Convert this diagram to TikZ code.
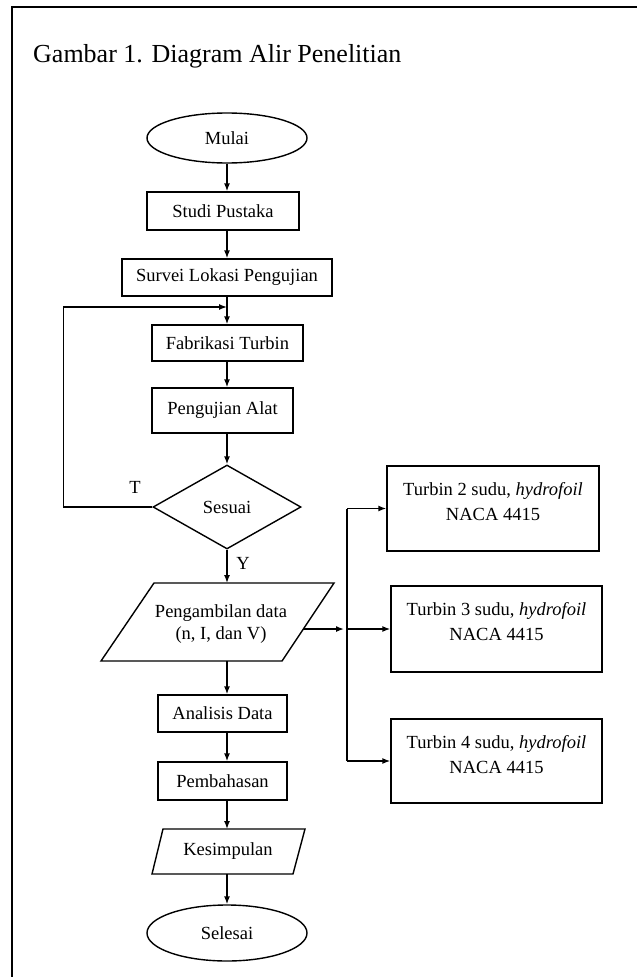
\documentclass[tikz,border=0pt]{standalone}
\usepackage{fontspec}
\setmainfont{Liberation Serif}
\usetikzlibrary{shapes.geometric,arrows.meta,calc}
\begin{document}
\begin{tikzpicture}[x=1pt,y=-1pt,
  every node/.style={font=\fontsize{18.5}{22}\selectfont, inner sep=0pt},
  proc/.style={draw, line width=1.4pt, rectangle},
  term/.style={draw, line width=1.4pt, ellipse},
  dec/.style={draw, line width=1.4pt, diamond},
  ln/.style={line width=1.4pt},
  arr/.style={line width=1.4pt, -{Latex[length=8pt,width=6pt]}},
  turb/.style={proc, minimum width=211pt},
  turbtext/.style={anchor=north, align=center, font=\fontsize{18.5}{25}\selectfont}]
\useasboundingbox (0,0) rectangle (637,977);
\fill[white] (0,0) rectangle (637,977);
\draw[line width=2.4pt] (12,977) -- (12,7) -- (637,7);

\node[anchor=base west, font=\fontsize{26}{30}\selectfont] (title) at (33,62) {Gambar 1. Diagram Alir Penelitian};

\coordinate (col) at (227,0);

\node[term, minimum width=160pt, minimum height=50pt] (mulai) at (227,138) {Mulai};
\node[proc, minimum width=152pt, minimum height=38pt] (studi) at (223,211) {Studi Pustaka};
\node[proc, minimum width=210pt, minimum height=37pt] (survei) at (227,277.5) {Survei Lokasi Pengujian};
\node[proc, minimum width=151pt, minimum height=36pt] (fabr) at (227.5,343) {Fabrikasi Turbin};
\node[proc, minimum width=141pt, minimum height=45pt] (uji) at (222.5,410.5) {Pengujian Alat};
\node[dec, minimum width=148pt, minimum height=84pt, aspect=1.76] (sesuai) at (227,507) {Sesuai};

% Pengambilan data parallelogram
\coordinate (tl) at (154,583);
\coordinate (tr) at (334,583);
\coordinate (br) at (282,661);
\coordinate (bl) at (101,661);
\draw[ln] (tl) -- (tr) -- (br) -- (bl) -- cycle;
\node[align=center] (ambil) at (221,624) {Pengambilan data\\(n, I, dan V)};

\node[proc, minimum width=129pt, minimum height=37pt] (anal) at (222.5,713.5) {Analisis Data};
\node[proc, minimum width=129pt, minimum height=38pt] (pemb) at (222.5,781) {Pembahasan};

% Kesimpulan parallelogram
\coordinate (ktl) at (163,829);
\coordinate (ktr) at (305,829);
\coordinate (kbr) at (293,874);
\coordinate (kbl) at (152,874);
\draw[ln] (ktl) -- (ktr) -- (kbr) -- (kbl) -- cycle;
\node (kes) at (228,851) {Kesimpulan};

\node[term, minimum width=160pt, minimum height=56pt] (selesai) at (227,933) {Selesai};

% Turbin boxes
\node[turb, minimum width=212pt, minimum height=85pt] (t1) at (493,508.5) {};
\node[turb, minimum height=86pt] (t2) at (496.5,629) {};
\node[turb, minimum height=84pt] (t3) at (496.5,761) {};
\node[turbtext] (t1t) at ([yshift=-17pt]t1.north) {Turbin 2 sudu, \textit{hydrofoil}\\NACA 4415};
\node[turbtext] (t2t) at ([yshift=-17pt]t2.north) {Turbin 3 sudu, \textit{hydrofoil}\\NACA 4415};
\node[turbtext] (t3t) at ([yshift=-17pt]t3.north) {Turbin 4 sudu, \textit{hydrofoil}\\NACA 4415};

% labels
\node (lT) at (135,487) {T};
\node (lY) at (243,563) {Y};

% main flow
\draw[arr] (mulai.south -| col) -- (studi.north -| col);
\draw[arr] (studi.south -| col) -- (survei.north -| col);
\draw[arr] (survei.south -| col) -- (fabr.north -| col);
\draw[arr] (fabr.south -| col) -- (uji.north -| col);
\draw[arr] (uji.south -| col) -- (sesuai.north);
\draw[arr] (sesuai.south) -- (sesuai.south |- tl);
\draw[arr] (col |- bl) -- (anal.north -| col);
\draw[arr] (anal.south -| col) -- (pemb.north -| col);
\draw[arr] (pemb.south -| col) -- (col |- ktl);
\draw[arr] (col |- kbl) -- (selesai.north);

% feedback loop
\coordinate (join) at (227,307);
\draw[arr] (sesuai.west) -- ++(-89,0) |- (join);

% distribution to turbines
\coordinate (bus) at (347,0);
\coordinate (pout) at ($(tr)!0.59!(br)$);
\draw[arr, shorten >=3pt] (pout) -- (pout -| bus);
\draw[ln] (t1.west -| bus) -- (t3.west -| bus);
\draw[arr] (t1.west -| bus) -- (t1.west);
\draw[arr] (t2.west -| bus) -- (t2.west);
\draw[arr] (t3.west -| bus) -- (t3.west);
\end{tikzpicture}
\end{document}
